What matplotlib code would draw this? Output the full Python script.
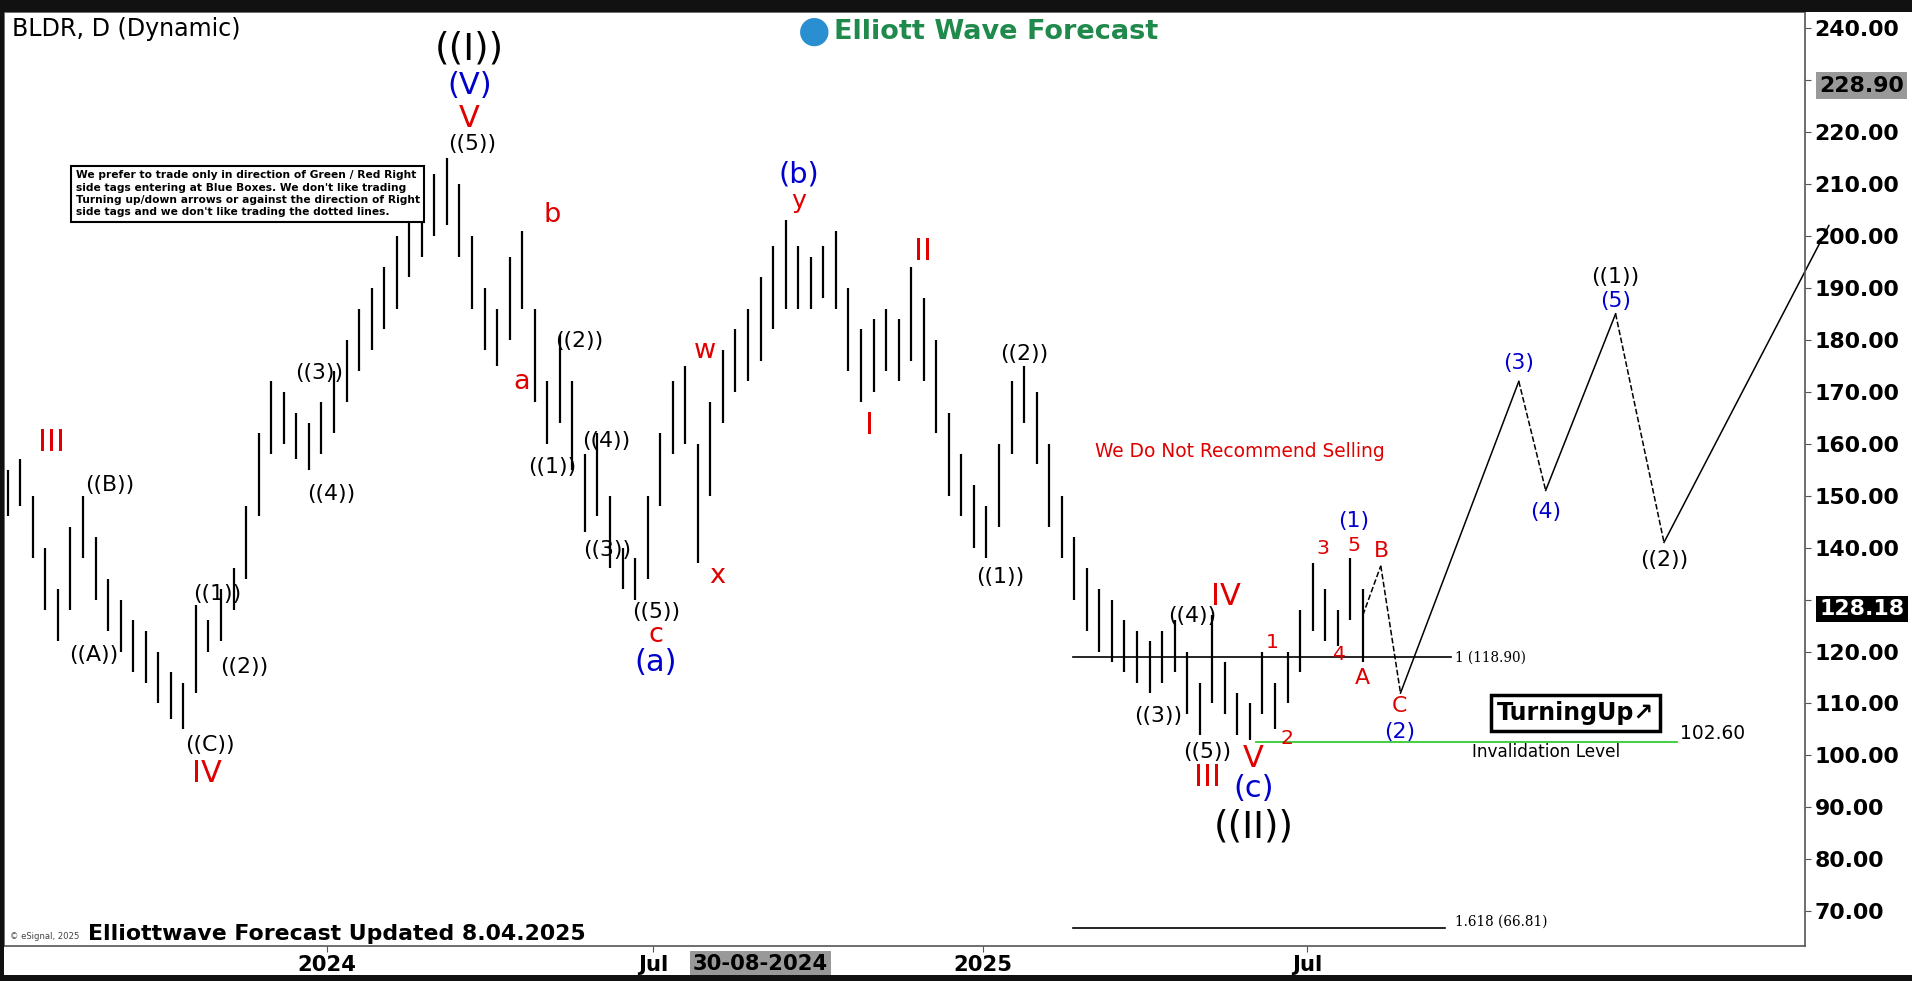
import numpy as np
import pandas as pd
import matplotlib
matplotlib.use("Agg")
import matplotlib.pyplot as plt
import matplotlib.dates as mdates
from matplotlib.patches import Rectangle

# weekly bars, BLDR daily chart
bar_dates = pd.date_range("2023-06-16", periods=112, freq="W-FRI")
highs = [140, 148, 152, 155, 157, 150, 140, 132, 144, 150, 142, 134, 130, 126, 124, 120,
         116, 114, 129, 126, 132, 136, 148, 162, 172, 170, 166, 164, 168, 174, 180, 186,
         190, 194, 200, 204, 210, 212, 215, 210, 200, 190, 186, 196, 201, 186, 172, 181,
         172, 158, 162, 150, 140, 138, 150, 162, 172, 175, 160, 168, 178, 182, 186, 192,
         198, 203, 198, 196, 198, 201, 190, 182, 184, 186, 184, 194, 188, 180, 166, 158,
         152, 148, 160, 172, 175, 170, 160, 150, 142, 136, 132, 130, 126, 124, 122, 124,
         126, 120, 114, 127, 118, 112, 110, 120, 114, 120, 128, 137, 132, 128, 138, 132]
lows = [130, 136, 142, 146, 148, 138, 128, 122, 128, 138, 130, 124, 120, 116, 114, 110,
        107, 105, 112, 120, 122, 128, 134, 146, 158, 160, 157, 155, 158, 162, 168, 174,
        178, 182, 186, 192, 196, 200, 202, 196, 186, 178, 175, 180, 186, 168, 160, 164,
        155, 143, 146, 136, 132, 130, 134, 148, 158, 160, 137, 150, 164, 170, 172, 176,
        182, 186, 186, 186, 188, 186, 174, 168, 170, 174, 172, 176, 172, 162, 150, 146,
        140, 138, 144, 158, 164, 156, 144, 138, 130, 124, 120, 118, 116, 114, 112, 114,
        116, 108, 104, 110, 108, 104, 103, 108, 105, 110, 116, 124, 122, 121, 126, 118]
last_price = 128.18
top_price = 228.90
fib_1, fib_1618, invalidation = 118.90, 66.81, 102.60

# projected path (dates, prices)
proj_dates = pd.to_datetime(["2025-08-01", "2025-08-11", "2025-08-22", "2025-10-27",
                             "2025-11-11", "2025-12-20", "2026-01-16", "2026-04-18"])
proj_prices = [127, 136.5, 112, 172, 151, 185, 141, 202]
proj_styles = ["--", "--", "-", "--", "-", "--", "-"]

# layout measured on a 1568 x 804 view of the reference
RW, RH = 1568, 804.5
K = 1912 / RW          # font scale
RED, BLUE = "#e00000", "#0000cc"

fig = plt.figure(figsize=(19.12, 9.81), dpi=100)
ax = fig.add_axes([3 / RW, 1 - 776 / RH, 1477 / RW, 766 / RH])

x0 = mdates.date2num(pd.Timestamp("2024-01-01"))
def px(x, y):
    # position in the reference view -> data coords
    return x0 + (x - 268) / 1.47, 240 - (y - 23) * 0.2347

ax.set_xlim(px(3, 0)[0], px(1480, 0)[0])
ax.set_ylim(240 - (776 - 23) * 0.2347, 240 - (10 - 23) * 0.2347)

ax.vlines(bar_dates, lows, highs, color="black", lw=1.6)

for i, ls in enumerate(proj_styles):
    ax.plot(proj_dates[i:i + 2], proj_prices[i:i + 2], ls, color="black", lw=1.1, clip_on=False)

# fib lines
ax.plot([px(880, 0)[0], px(1190, 0)[0]], [fib_1, fib_1], color="black", lw=1.2)
ax.text(px(1193, 0)[0], fib_1, "1 (118.90)", fontsize=8 * K, va="center", family="DejaVu Serif")
ax.plot([px(880, 0)[0], px(1185, 0)[0]], [fib_1618, fib_1618], color="black", lw=1.2)
ax.text(px(1193, 0)[0], fib_1618 + 1.2, "1.618 (66.81)", fontsize=8 * K, va="center", family="DejaVu Serif")
ax.plot([px(1030, 0)[0], px(1375, 0)[0]], [invalidation] * 2, color="#33cc33", lw=1.3)
ax.text(px(1378, 0)[0], invalidation + 1.6, "102.60", fontsize=11 * K, va="center",
        family="Liberation Sans Narrow")
ax.text(*px(1268, 617), "Invalidation Level", fontsize=10 * K, ha="center", va="center",
        family="Liberation Sans Narrow")
ax.text(*px(1292, 585), "TurningUp\u2197", fontsize=14 * K, weight="bold", ha="center", va="center",
        family="Liberation Sans Narrow",
        bbox=dict(boxstyle="square,pad=0.25", fc="white", ec="black", lw=2.5))
ax.text(*px(1017, 370), "We Do Not Recommend Selling", fontsize=11 * K, color=RED,
        ha="center", va="center", family="Liberation Sans Narrow")

labels = [
    (42, 363, "III", RED, 18), (90, 398, "((B))", "k", 13), (77, 537, "((A))", "k", 13),
    (172, 611, "((C))", "k", 13), (170, 634, "IV", RED, 18), (178, 487, "((1))", "k", 13),
    (200, 547, "((2))", "k", 13), (262, 306, "((3))", "k", 13), (272, 405, "((4))", "k", 13),
    (387, 118, "((5))", "k", 13), (385, 97, "V", RED, 18), (385, 70, "(V)", BLUE, 18),
    (385, 40, "((I))", "k", 22), (428, 313, "a", RED, 16), (453, 176, "b", RED, 16),
    (453, 383, "((1))", "k", 13), (475, 280, "((2))", "k", 13), (497, 362, "((4))", "k", 13),
    (498, 451, "((3))", "k", 13), (538, 502, "((5))", "k", 13), (538, 521, "c", RED, 16),
    (538, 543, "(a)", BLUE, 18), (578, 288, "w", RED, 16), (588, 472, "x", RED, 16),
    (655, 165, "y", RED, 15), (655, 143, "(b)", BLUE, 17), (757, 206, "II", RED, 18),
    (713, 349, "I", RED, 18), (840, 290, "((2))", "k", 13), (820, 473, "((1))", "k", 13),
    (978, 505, "((4))", "k", 13), (950, 587, "((3))", "k", 13), (990, 617, "((5))", "k", 13),
    (990, 638, "III", RED, 18), (1005, 489, "IV", RED, 18), (1028, 622, "V", RED, 18),
    (1028, 647, "(c)", BLUE, 18), (1028, 678, "((II))", "k", 22), (1043, 527, "1", RED, 12),
    (1055, 606, "2", RED, 12), (1085, 450, "3", RED, 12), (1098, 537, "4", RED, 12),
    (1110, 447, "5", RED, 12), (1110, 427, "(1)", BLUE, 13), (1117, 556, "A", RED, 13),
    (1133, 452, "B", RED, 13), (1148, 579, "C", RED, 13), (1148, 600, "(2)", BLUE, 13),
    (1245, 298, "(3)", BLUE, 13), (1268, 420, "(4)", BLUE, 13), (1325, 247, "(5)", BLUE, 13),
    (1325, 227, "((1))", "k", 13), (1365, 459, "((2))", "k", 13),
]
for x, y, t, c, s in labels:
    ax.text(*px(x, y), t, color=c, fontsize=s * K, ha="center", va="center")

ax.text(*px(62, 159),
        "We prefer to trade only in direction of Green / Red Right\nside tags entering at Blue Boxes. We don't like trading\n"
        "Turning up/down arrows or against the direction of Right\nside tags and we don't like trading the dotted lines.",
        fontsize=6.3 * K, weight="bold", ha="left", va="center", linespacing=1.3,
        family="Liberation Sans Narrow",
        bbox=dict(boxstyle="square,pad=0.4", fc="white", ec="black", lw=1.5))

# axes / ticks
ax.yaxis.tick_right()
yt = np.arange(70, 241, 10)
ax.set_yticks(yt)
ax.set_yticklabels(["" if v in (130, 230) else f"{v:.2f}" for v in yt], fontsize=13 * K, weight="bold")
ax.tick_params(axis="y", length=4, pad=3, color="#555555")
xt = pd.to_datetime(["2024-01-01", "2024-07-01", "2025-01-01", "2025-07-01"])
ax.set_xticks(mdates.date2num(xt))
ax.set_xticklabels(["2024", "Jul", "2025", "Jul"], fontsize=12.5 * K, weight="bold",
                   family="Liberation Sans Narrow")
ax.tick_params(axis="x", length=4, pad=2, color="#555555")
for sp in ax.spines.values():
    sp.set_linewidth(1.2)
    sp.set_color("#555555")

yfrac = lambda v: (v - ax.get_ylim()[0]) / (ax.get_ylim()[1] - ax.get_ylim()[0])
ax.text(1.0 + 0.008, yfrac(top_price), f"{top_price:.2f}", transform=ax.transAxes,
        fontsize=13 * K, weight="bold", va="center",
        bbox=dict(boxstyle="square,pad=0.15", fc="#999999", ec="none"))
ax.text(1.0 + 0.008, yfrac(last_price), f"{last_price:.2f}", transform=ax.transAxes,
        fontsize=13 * K, weight="bold", color="white", va="center",
        bbox=dict(boxstyle="square,pad=0.15", fc="black", ec="none"))
ax.text(mdates.date2num(pd.Timestamp("2024-08-30")), -0.008, "30-08-2024", transform=ax.get_xaxis_transform(),
        fontsize=12.5 * K, weight="bold", ha="center", va="top", family="Liberation Sans Narrow",
        bbox=dict(boxstyle="square,pad=0.15", fc="#999999", ec="none"))

# dark frame
fig.patches.append(Rectangle((0, 1 - 10 / RH), 1, 10 / RH, transform=fig.transFigure, fc="#111111", ec="none"))
fig.patches.append(Rectangle((0, 0), 1, 5 / RH, transform=fig.transFigure, fc="#111111", ec="none"))
fig.patches.append(Rectangle((0, 0), 3 / RW, 1, transform=fig.transFigure, fc="#111111", ec="none"))

fig.text(10 / RW, 1 - 24 / RH, "BLDR, D (Dynamic)", fontsize=14 * K, va="center")
fig.text(668 / RW, 1 - 26 / RH, "\u25cf", fontsize=22 * K, color="#2a8fd0", ha="center", va="center")
fig.text(684 / RW, 1 - 26 / RH, "Elliott Wave Forecast", fontsize=16 * K, weight="bold",
         color="#1f8a4c", ha="left", va="center")
fig.text(72 / RW, 1 - 766 / RH, "Elliottwave Forecast Updated 8.04.2025", fontsize=13 * K,
         weight="bold", va="center", family="Liberation Sans Narrow")
fig.text(8 / RW, 1 - 768 / RH, "\u00a9 eSignal, 2025", fontsize=5 * K, va="center", color="#444444")

fig.savefig("out.png", dpi=100)
